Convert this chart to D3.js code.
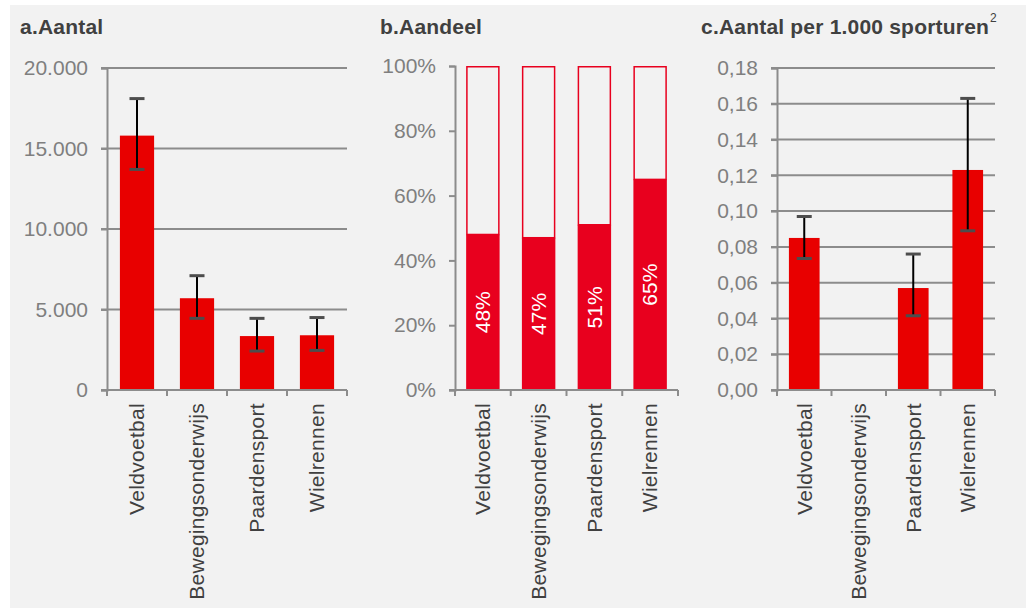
<!DOCTYPE html>
<html>
<head>
<meta charset="utf-8">
<script src="https://cdn.jsdelivr.net/npm/d3@7"></script>
<style>
  html, body { margin: 0; padding: 0; background: #ffffff; }
  svg { display: block; }
  text { font-family: "Liberation Sans", Arial, sans-serif; }
</style>
</head>
<body>
<svg id="chart" width="1026" height="608"></svg>
<script>
// Sport categories shared by all three panels
const categories = ["Veldvoetbal", "Bewegingsonderwijs", "Paardensport", "Wielrennen"];

// a. Aantal blessures, with lower and upper bound of the interval
const aantal     = [15800, 5700, 3350, 3400];
const aantalLow  = [13700, 4450, 2420, 2460];
const aantalHigh = [18100, 7100, 4450, 4500];
const aantalTicks = [0, 5000, 10000, 15000, 20000];

// b. Aandeel (percent)
const aandeel = [48, 47, 51, 65];
const aandeelTicks = [0, 20, 40, 60, 80, 100];

// c. Aantal per 1.000 sporturen (no figure for Bewegingsonderwijs)
const perUur     = [0.085, null, 0.057, 0.123];
const perUurLow  = [0.0735, null, 0.0415, 0.089];
const perUurHigh = [0.097, null, 0.076, 0.163];
const perUurTicks = [0, 0.02, 0.04, 0.06, 0.08, 0.10, 0.12, 0.14, 0.16, 0.18];

const RED = "#e80000";
const RED_B = "#e8001e";
const AXIS = "#8c8c8c";
const TICK_TEXT = "#7f7f7f";
const DARK = "#404040";
const BG = "#f2f2f2";
const FS = 21;

const svg = d3.select("#chart");
svg.append("rect").attr("x", 10).attr("y", 5).attr("width", 1016).attr("height", 603).attr("fill", BG);

const nlInt = d3.formatLocale({ decimal: ",", thousands: ".", grouping: [3], currency: ["€", ""] });
const fmtThousands = nlInt.format(",.0f");
const fmtDec = nlInt.format(".2f");

function drawPanel(opt) {
  const g = svg.append("g");
  const x = d3.scaleBand().domain(categories).range(opt.xRange)
    .paddingInner(opt.pad).paddingOuter(opt.pad / 2);
  const y = d3.scaleLinear().domain(opt.yDomain).range(opt.yRange);

  // title
  const t = g.append("text").attr("x", opt.titleX).attr("y", 34)
    .attr("font-size", FS).attr("font-weight", "bold").attr("fill", DARK)
    .attr("letter-spacing", 0.2)
    .text(opt.title);
  if (opt.sup) {
    t.append("tspan").attr("font-size", 12).attr("font-weight", "normal")
      .attr("dx", 1).attr("dy", -12).text(opt.sup);
  }

  // gridlines
  if (opt.grid) {
    g.append("g").selectAll("line").data(opt.ticks.filter(d => d !== 0)).join("line")
      .attr("x1", opt.xRange[0] - 6).attr("x2", opt.xRange[1])
      .attr("y1", d => y(d)).attr("y2", d => y(d))
      .attr("stroke", AXIS).attr("stroke-width", 2);
  }

  // y axis
  const yAxis = d3.axisLeft(y).tickValues(opt.ticks).tickSize(6).tickPadding(13)
    .tickFormat(opt.fmt);
  const ya = g.append("g").attr("transform", `translate(${opt.xRange[0]},0)`).call(yAxis);
  ya.select(".domain").attr("stroke", AXIS).attr("stroke-width", 2);
  ya.selectAll(".tick line").attr("stroke", AXIS).attr("stroke-width", 2);
  ya.selectAll(".tick text").attr("font-size", FS).attr("fill", TICK_TEXT)
    .attr("font-family", "Liberation Sans, Arial, sans-serif");

  return { g, x, y };
}

function drawXAxis(p, xRange, baseY) {
  const { g, x } = p;
  const bounds = d3.range(categories.length + 1).map(i => xRange[0] + i * x.step());
  g.append("line").attr("x1", xRange[0] - 6).attr("x2", xRange[1])
    .attr("y1", baseY).attr("y2", baseY).attr("stroke", AXIS).attr("stroke-width", 2);
  g.append("g").selectAll("line").data(bounds).join("line")
    .attr("x1", d => d).attr("x2", d => d).attr("y1", baseY).attr("y2", baseY + 6)
    .attr("stroke", AXIS).attr("stroke-width", 2);
  g.append("g").selectAll("text").data(categories).join("text")
    .attr("transform", d => `translate(${x(d) + x.bandwidth() / 2},${baseY + 13}) rotate(-90)`)
    .attr("text-anchor", "end").attr("dy", "0.35em")
    .attr("font-size", FS).attr("fill", DARK).attr("letter-spacing", 0.3)
    .text(d => d);
}

function drawErrorBars(p, low, high) {
  const { g, x, y } = p;
  const data = categories.map((c, i) => ({ c, lo: low[i], hi: high[i] })).filter(d => d.lo != null);
  const eg = g.append("g");
  eg.selectAll("line.stem").data(data).join("line").attr("class", "stem")
    .attr("x1", d => x(d.c) + x.bandwidth() / 2).attr("x2", d => x(d.c) + x.bandwidth() / 2)
    .attr("y1", d => y(d.hi)).attr("y2", d => y(d.lo))
    .attr("stroke", "#000").attr("stroke-width", 2);
  const caps = data.flatMap(d => [{ c: d.c, v: d.hi }, { c: d.c, v: d.lo }]);
  eg.selectAll("line.cap").data(caps).join("line").attr("class", "cap")
    .attr("x1", d => x(d.c) + x.bandwidth() / 2 - 7.5).attr("x2", d => x(d.c) + x.bandwidth() / 2 + 7.5)
    .attr("y1", d => y(d.v)).attr("y2", d => y(d.v))
    .attr("stroke", "#4d4d4d").attr("stroke-width", 3);
}

// ---------- a. Aantal ----------
const pa = drawPanel({
  title: "a.Aantal", titleX: 20, xRange: [107, 347], pad: 0.43,
  yDomain: [0, 20000], yRange: [390, 68], ticks: aantalTicks, grid: true,
  fmt: d => d === 0 ? "0" : fmtThousands(d)
});
pa.g.append("g").selectAll("rect").data(categories.map((c, i) => ({ c, v: aantal[i] }))).join("rect")
  .attr("x", d => pa.x(d.c)).attr("width", pa.x.bandwidth())
  .attr("y", d => pa.y(d.v)).attr("height", d => pa.y(0) - pa.y(d.v))
  .attr("fill", RED);
drawErrorBars(pa, aantalLow, aantalHigh);
drawXAxis(pa, [107, 347], 390);

// ---------- b. Aandeel ----------
const pb = drawPanel({
  title: "b.Aandeel", titleX: 380, xRange: [455, 678], pad: 0.4,
  yDomain: [0, 100], yRange: [390, 66], ticks: aandeelTicks, grid: false,
  fmt: d => d + "%"
});
const bData = categories.map((c, i) => ({ c, v: aandeel[i] }));
// remainder up to 100%, outlined only
pb.g.append("g").selectAll("rect").data(bData).join("rect")
  .attr("x", d => pb.x(d.c) + 0.75).attr("width", pb.x.bandwidth() - 1.5)
  .attr("y", pb.y(100) + 0.75).attr("height", d => pb.y(d.v) - pb.y(100) - 0.75)
  .attr("fill", BG).attr("stroke", RED_B).attr("stroke-width", 1.5);
pb.g.append("g").selectAll("rect").data(bData).join("rect")
  .attr("x", d => pb.x(d.c)).attr("width", pb.x.bandwidth())
  .attr("y", d => pb.y(d.v)).attr("height", d => pb.y(0) - pb.y(d.v))
  .attr("fill", RED_B);
pb.g.append("g").selectAll("text").data(bData).join("text")
  .attr("transform", d => `translate(${pb.x(d.c) + pb.x.bandwidth() / 2},${(pb.y(d.v) + pb.y(0)) / 2}) rotate(-90)`)
  .attr("text-anchor", "middle").attr("dy", "0.35em")
  .attr("font-size", FS).attr("fill", "#ffffff")
  .text(d => d.v + "%");
drawXAxis(pb, [455, 678], 390);

// ---------- c. Aantal per 1.000 sporturen ----------
const pc = drawPanel({
  title: "c.Aantal per 1.000 sporturen", sup: "2", titleX: 701, xRange: [777, 995], pad: 0.437,
  yDomain: [0, 0.18], yRange: [390, 68], ticks: perUurTicks, grid: true,
  fmt: d => fmtDec(d)
});
pc.g.append("g").selectAll("rect")
  .data(categories.map((c, i) => ({ c, v: perUur[i] })).filter(d => d.v != null)).join("rect")
  .attr("x", d => pc.x(d.c)).attr("width", pc.x.bandwidth())
  .attr("y", d => pc.y(d.v)).attr("height", d => pc.y(0) - pc.y(d.v))
  .attr("fill", RED);
drawErrorBars(pc, perUurLow, perUurHigh);
drawXAxis(pc, [777, 995], 390);
</script>
</body>
</html>
